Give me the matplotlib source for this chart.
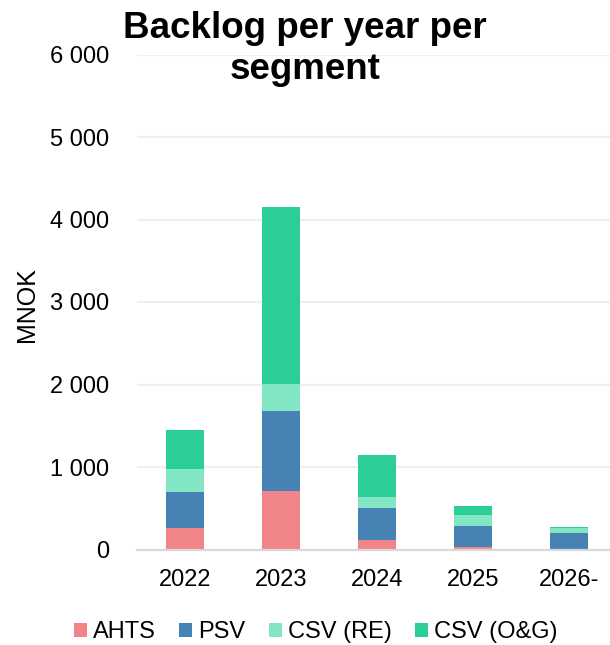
import numpy as np
import matplotlib
matplotlib.use("Agg")
import matplotlib.pyplot as plt
from matplotlib.patches import Patch

plt.rcParams['font.family'] = ['Liberation Sans', 'DejaVu Sans']

# Backlog values (MNOK)
years = ['2022', '2023', '2024', '2025', '2026-']
segments = ['AHTS', 'PSV', 'CSV (RE)', 'CSV (O&G)']
ahts = [261, 705, 115, 30, 0]
psv = [436, 974, 392, 258, 204]
csv_re = [279, 327, 129, 127, 60]
csv_og = [469, 2142, 513, 112, 12]
colors = ['#F08488', '#4682B4', '#82E6C4', '#2BCE95']

fig = plt.figure(figsize=(6.10, 6.45), dpi=100)
ax = fig.add_axes([137 / 610, 1 - 549.5 / 645, 480 / 610, 495 / 645])

x = np.arange(len(years))
bottom = np.zeros(len(years))
for vals, col in zip([ahts, psv, csv_re, csv_og], colors):
    ax.bar(x, vals, width=0.4, bottom=bottom, color=col, zorder=3)
    bottom += np.array(vals)

ax.set_xlim(-0.5, 4.5)
ax.set_ylim(0, 6000)
ax.set_yticks(range(0, 6001, 1000))
ax.set_yticklabels(['0' if v == 0 else f'{v // 1000} {v % 1000:03d}' for v in range(0, 6001, 1000)])
ax.set_xticks(x)
ax.set_xticklabels(years)
ax.tick_params(axis='y', length=0, pad=20, labelsize=17, colors='#000000')
ax.tick_params(axis='x', length=0, pad=14, labelsize=17)

ax.grid(axis='y', color='#EFEFEF', linewidth=1.5, zorder=0)
for s in ['top', 'right', 'left']:
    ax.spines[s].set_visible(False)
ax.spines['bottom'].set_color('#D9D9D9')
ax.spines['bottom'].set_linewidth(1.6)
ax.spines['bottom'].set_zorder(4)

ax.set_ylabel('MNOK', fontsize=18)
ax.yaxis.set_label_coords(-0.205, 0.495)

fig.text(0.5, 1 - 11 / 645, 'Backlog per year per\nsegment', ha='center', va='top',
         fontsize=26.5, fontweight='bold', linespacing=1.22)

handles = [Patch(facecolor=c, label=l) for c, l in zip(colors, segments)]
fig.legend(handles=handles, loc='center', bbox_to_anchor=(316 / 610, 1 - 632 / 645),
           ncol=4, frameon=False, fontsize=17, handlelength=0.55, handleheight=0.55,
           handletextpad=0.25, columnspacing=1.0, borderaxespad=0)

fig.savefig('out.png', dpi=100)
